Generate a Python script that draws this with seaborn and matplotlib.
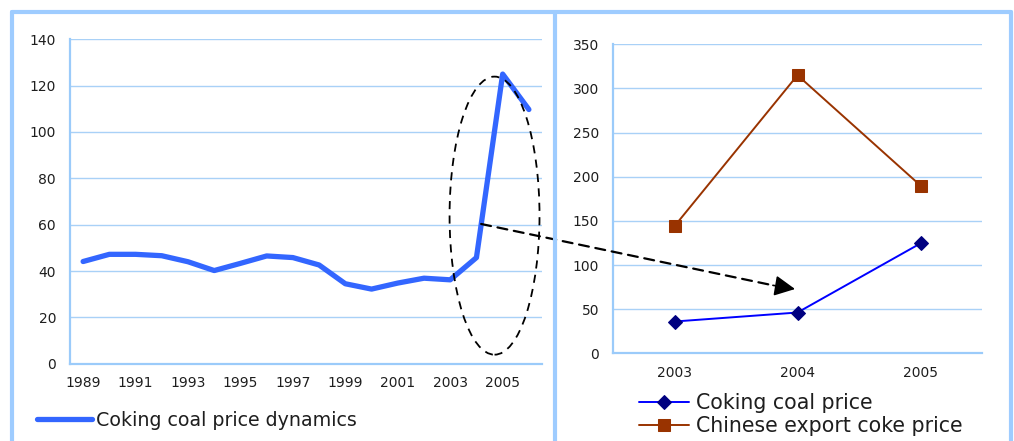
import numpy as np
import pandas as pd
import matplotlib
matplotlib.use("Agg")
import matplotlib.pyplot as plt
from matplotlib.patches import Ellipse, ConnectionPatch
from matplotlib.lines import Line2D
import seaborn as sns

# Annual coking coal price, 1989-2006
years = list(range(1989, 2007))
coal_price = [44.1, 47.2, 47.2, 46.6, 44.0, 40.2, 43.3, 46.5, 45.8, 42.6,
              34.5, 32.2, 34.8, 36.9, 36.2, 45.8, 125.0, 109.7]

# Close-up for 2003-2005
zoom_years = ["2003", "2004", "2005"]
zoom_coal = [36.0, 46.2, 124.5]
zoom_coke = [144.0, 315.0, 190.0]

left_label = "Coking coal price dynamics"
right_labels = ["Coking coal price", "Chinese export coke price"]

sns.set_theme(style="white")
plt.rcParams["font.family"] = ["DejaVu Sans"]

AXIS_C = "#9BCBFA"
GRID_C = "#A9D1F7"
FRAME_C = "#9ECCFF"
TEXT_C = "#1e1e1e"

W, H = 1014, 441
fig = plt.figure(figsize=(W / 100, H / 100), dpi=100)
fig.patch.set_facecolor("white")


def fx(px):
    return px / W


def fy(py):
    return 1 - py / H


ax1 = fig.add_axes([fx(70), fy(363.7), fx(542) - fx(70), fy(39.3) - fy(363.7)])
ax2 = fig.add_axes([fx(613), fy(353.3), fx(982) - fx(613), fy(44.3) - fy(353.3)])


def style_axis(ax, n, ymax, ystep, xlabels_pos, xlabels):
    ax.set_facecolor("white")
    ax.set_xlim(-0.5, n - 0.5)
    ax.set_ylim(0, ymax)
    ax.set_yticks(np.arange(0, ymax + 1, ystep))
    ax.yaxis.grid(True, color=GRID_C, linewidth=1.0)
    ax.xaxis.grid(False)
    ax.set_axisbelow(True)
    for s in ["top", "right"]:
        ax.spines[s].set_visible(False)
    for s in ["left", "bottom"]:
        ax.spines[s].set_visible(True)
        ax.spines[s].set_color(AXIS_C)
        ax.spines[s].set_linewidth(1.6)
    ax.set_xticks(xlabels_pos)
    ax.set_xticklabels(xlabels)
    ax.set_xticks(np.arange(-0.5, n, 1.0), minor=True)
    ax.tick_params(axis="x", which="major", length=0, pad=9, labelsize=10, labelcolor=TEXT_C)
    ax.tick_params(axis="x", which="minor", length=4, width=1.2, color=AXIS_C, direction="out")
    ax.tick_params(axis="y", which="major", length=4, width=1.2, color=AXIS_C,
                   direction="out", pad=6, labelsize=10, labelcolor=TEXT_C)
    ax.set_xlabel("")
    ax.set_ylabel("")


# Left panel: long-run price series
df1 = pd.DataFrame({"pos": np.arange(len(years)), "price": coal_price})
sns.lineplot(data=df1, x="pos", y="price", ax=ax1, color="#3366FF", linewidth=3.8,
             solid_capstyle="round", solid_joinstyle="round", label=left_label)
style_axis(ax1, len(years), 140, 20, np.arange(0, len(years), 2),
           [str(y) for y in years[::2]])

# Right panel: coal vs coke price
df2 = pd.DataFrame({"pos": np.arange(3), "coal": zoom_coal, "coke": zoom_coke})
sns.lineplot(data=df2, x="pos", y="coal", ax=ax2, color="#0000FF", linewidth=1.4,
             marker="D", markersize=7, markerfacecolor="#000080",
             markeredgecolor="#000080", label=right_labels[0])
sns.lineplot(data=df2, x="pos", y="coke", ax=ax2, color="#993300", linewidth=1.4,
             marker="s", markersize=8, markerfacecolor="#993300",
             markeredgecolor="#993300", label=right_labels[1])
style_axis(ax2, 3, 350, 50, np.arange(3), zoom_years)

# Legends below each panel
leg1 = ax1.legend(loc="center left", bbox_to_anchor=(fx(37), fy(420)),
                  bbox_transform=fig.transFigure, frameon=False, fontsize=13.7,
                  handlelength=2.9, handletextpad=0.2, borderpad=0, borderaxespad=0)
for t in leg1.get_texts():
    t.set_color(TEXT_C)
leg2 = ax2.legend(loc="upper left", bbox_to_anchor=(fx(639), fy(393)),
                  bbox_transform=fig.transFigure, frameon=False, fontsize=14.8,
                  handlelength=2.45, handletextpad=0.3, borderpad=0, borderaxespad=0,
                  labelspacing=0.15)
for t in leg2.get_texts():
    t.set_color(TEXT_C)

# Dashed ellipse around the 2004-2006 spike
ell = Ellipse((15.69, 63.9), width=3.43, height=120, fill=False, edgecolor="black",
              linestyle=(0, (4.5, 3.5)), linewidth=1.3, zorder=5)
ax1.add_patch(ell)

# Dashed connector from the spike to the close-up panel
start = (15.18, 60.3)
tip = (0.98, 72.8)
back = (0.80, 77.0)
con = ConnectionPatch(xyA=start, coordsA=ax1.transData, xyB=back, coordsB=ax2.transData,
                      color="black", linewidth=1.6, linestyle=(0, (4.5, 3)), zorder=6)
fig.add_artist(con)
ax2.annotate("", xy=tip, xytext=back, xycoords="data", textcoords="data",
             arrowprops=dict(arrowstyle="-|>,head_length=0.9,head_width=0.45",
                             color="black", linewidth=1.2, shrinkA=0, shrinkB=0,
                             mutation_scale=14),
             annotation_clip=False, zorder=7)

# Light blue panel frame
frame_kw = dict(color=FRAME_C, linewidth=3.0, transform=fig.transFigure, zorder=10)
fig.add_artist(Line2D([fx(11.5), fx(1011)], [fy(11.5), fy(11.5)], **frame_kw))
fig.add_artist(Line2D([fx(11.5), fx(11.5)], [fy(11.5), fy(445)], **frame_kw))
fig.add_artist(Line2D([fx(555), fx(555)], [fy(11.5), fy(445)], **frame_kw))
fig.add_artist(Line2D([fx(1011), fx(1011)], [fy(11.5), fy(445)], **frame_kw))

fig.savefig("out.png", dpi=100, facecolor="white")
